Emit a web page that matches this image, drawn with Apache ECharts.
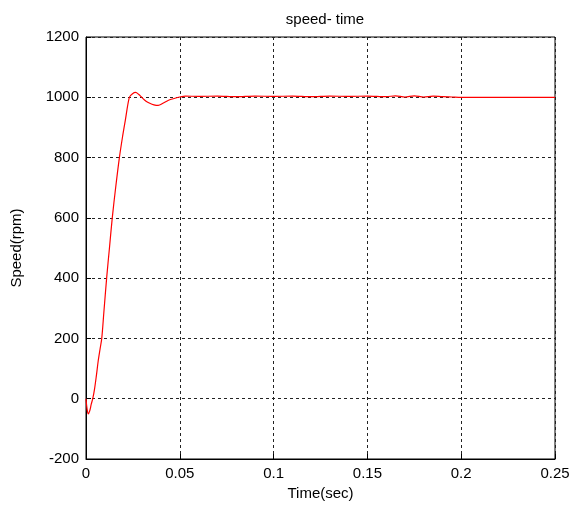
<!DOCTYPE html>
<html>
<head>
<meta charset="utf-8">
<script src="https://cdn.jsdelivr.net/npm/echarts@6/dist/echarts.min.js"></script>
<style>
  html, body { margin: 0; padding: 0; background: #fff; }
  #main { width: 574px; height: 511px; }
</style>
</head>
<body>
<div id="main"></div>
<script>
// time (sec) and speed (rpm)
var timeSec = [
  0, 0.0006, 0.0012, 0.0020, 0.0028, 0.0036, 0.0045, 0.0055, 0.0065, 0.0075,
  0.0084, 0.0095, 0.0110, 0.0125, 0.0140, 0.0158, 0.0178, 0.0195, 0.0210, 0.0231,
  0.0248, 0.0265, 0.0280, 0.0300, 0.0320, 0.0340, 0.0362, 0.0385, 0.0410, 0.0440,
  0.0470, 0.0500, 0.0530, 0.0600, 0.0700, 0.0800, 0.0900, 0.1000, 0.1100, 0.1200,
  0.1300, 0.1400, 0.1500, 0.1600, 0.1650, 0.1700, 0.1750, 0.1800, 0.1850, 0.1900,
  0.1950, 0.2000, 0.2250, 0.2500
];
var speedRpm = [
  0, -35, -50, -40, -18, 0, 30, 75, 125, 165,
  200, 285, 400, 500, 600, 700, 800, 870, 925, 1000,
  1012, 1016, 1010, 998, 987, 980, 975, 973, 980, 990,
  996, 1001, 1004, 1003, 1004, 1002, 1004, 1003, 1004, 1002,
  1004, 1003, 1004, 1002, 1005, 1001, 1005, 1001, 1004, 1002,
  1001, 1000, 1000, 1000
];
var xTicks = [0, 0.25, 0.05];
var yTicks = [-200, 1200, 200];

var chartDom = document.getElementById("main");
var myChart = echarts.init(chartDom);
var option;

var pts = timeSec.map(function (t, i) {
  return [t, speedRpm[i]];
});

option = {
  animation: false,
  backgroundColor: "#fff",
  title: {
    text: "speed- time",
    left: 320,
    top: 7,
    textAlign: "center",
    textStyle: {
      fontFamily: "Liberation Sans",
      fontSize: 15,
      fontWeight: "normal",
      color: "#000",
    },
  },
  grid: {
    left: 86,
    right: 19,
    top: 37,
    bottom: 52,
    show: true,
    borderColor: "#000",
    borderWidth: 1,
    backgroundColor: "#fff",
  },
  xAxis: {
    type: "value",
    min: xTicks[0],
    max: xTicks[1],
    interval: xTicks[2],
    name: "Time(sec)",
    nameLocation: "middle",
    nameGap: 26,
    nameTextStyle: { fontFamily: "Liberation Sans", fontSize: 15, color: "#000" },
    axisLine: { show: true, onZero: false, lineStyle: { color: "#000", width: 1 } },
    axisTick: { show: true, inside: true, length: 5, lineStyle: { color: "#000" } },
    axisLabel: {
      fontFamily: "Liberation Sans",
      fontSize: 15,
      color: "#000",
      margin: 7,
    },
    splitLine: {
      show: true,
      lineStyle: { color: "#222", type: [3, 3], width: 1 },
    },
  },
  yAxis: {
    type: "value",
    min: yTicks[0],
    max: yTicks[1],
    interval: yTicks[2],
    name: "Speed(rpm)",
    nameLocation: "middle",
    nameGap: 62,
    nameTextStyle: { fontFamily: "Liberation Sans", fontSize: 15, color: "#000" },
    axisLine: { show: true, onZero: false, lineStyle: { color: "#000", width: 1 } },
    axisTick: { show: true, inside: true, length: 5, lineStyle: { color: "#000" } },
    axisLabel: {
      fontFamily: "Liberation Sans",
      fontSize: 15,
      color: "#000",
      margin: 7,
      formatter: function (v) {
        return String(v);
      },
    },
    splitLine: {
      show: true,
      lineStyle: { color: "#222", type: [3, 3], width: 1 },
    },
  },
  series: [
    {
      type: "line",
      data: pts,
      showSymbol: false,
      smooth: 0.3,
      lineStyle: { color: "#ff0000", width: 1.2 },
      itemStyle: { color: "#ff0000" },
    },
  ],
};

option && myChart.setOption(option);
</script>
</body>
</html>
